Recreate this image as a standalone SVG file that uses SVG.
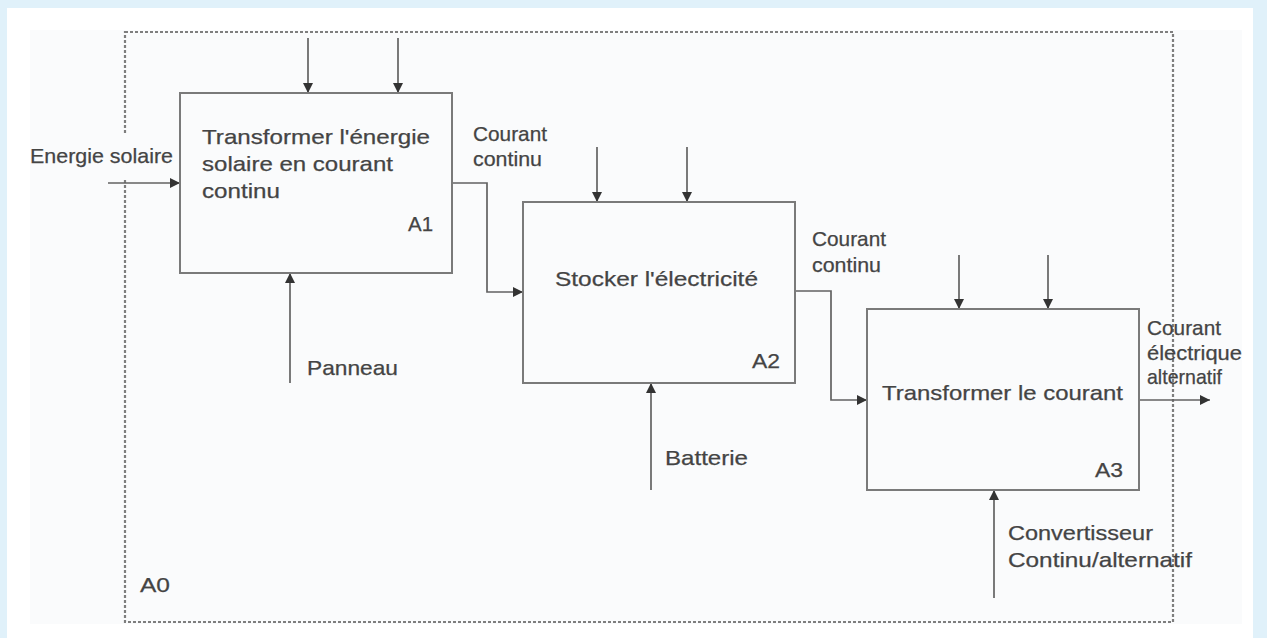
<svg xmlns="http://www.w3.org/2000/svg" width="1267" height="638" viewBox="0 0 1267 638">
<defs>
<marker id="arr" viewBox="0 0 10 10" refX="10" refY="5" markerWidth="10" markerHeight="10" markerUnits="userSpaceOnUse" orient="auto">
<path d="M0,0 L10,5 L0,10 z" fill="#333"/>
</marker>
<style>
text{font-family:"Liberation Sans",Arial,sans-serif;font-size:21px;fill:#444;stroke:#444;stroke-width:0.25}
.box{fill:none;stroke:#7a7a7a;stroke-width:2}
.c{fill:none;stroke:#626262;stroke-width:1.7;marker-end:url(#arr)}
</style>
</defs>
<rect x="0" y="0" width="1267" height="638" fill="#e0f1fa"/>
<rect x="7" y="8" width="1246" height="630" fill="#ffffff"/>
<rect x="30" y="30" width="1212" height="594" fill="#fafbfc"/>
<rect x="125" y="32" width="1048" height="590" fill="none" stroke="#7e7e7e" stroke-width="2.2" stroke-dasharray="3,2"/>
<rect x="118" y="134" width="14" height="44" fill="#fafbfc"/>
<text x="140" y="592" textLength="30" lengthAdjust="spacingAndGlyphs">A0</text>

<g id="connectors">
<path class="c" d="M308,38 V93"/>
<path class="c" d="M398,38 V93"/>
<path class="c" d="M108,183 H180"/>
<path class="c" d="M290,383 V273"/>
<path class="c" d="M452,183 H487 V292 H523"/>
<path class="c" d="M597,147 V202"/>
<path class="c" d="M687,147 V202"/>
<path class="c" d="M651,490 V383"/>
<path class="c" d="M795,291 H831 V400 H867"/>
<path class="c" d="M959,255 V309"/>
<path class="c" d="M1048,255 V309"/>
<path class="c" d="M994,598 V490"/>
<path class="c" d="M1139,400 H1210"/>
</g>

<g id="labels">
<text x="30" y="163" textLength="143" lengthAdjust="spacingAndGlyphs">Energie solaire</text>
<text x="473" y="141" textLength="74" lengthAdjust="spacingAndGlyphs">Courant</text>
<text x="473" y="166" textLength="69" lengthAdjust="spacingAndGlyphs">continu</text>
<text x="812" y="246" textLength="74" lengthAdjust="spacingAndGlyphs">Courant</text>
<text x="812" y="272" textLength="69" lengthAdjust="spacingAndGlyphs">continu</text>
<text x="1147" y="335" textLength="74" lengthAdjust="spacingAndGlyphs">Courant</text>
<text x="1147" y="360" textLength="95" lengthAdjust="spacingAndGlyphs">électrique</text>
<text x="1147" y="384" textLength="75" lengthAdjust="spacingAndGlyphs">alternatif</text>
<text x="307" y="375" textLength="91" lengthAdjust="spacingAndGlyphs">Panneau</text>
<text x="665" y="465" textLength="83" lengthAdjust="spacingAndGlyphs">Batterie</text>
<text x="1008" y="540" textLength="145" lengthAdjust="spacingAndGlyphs">Convertisseur</text>
<text x="1008" y="567" textLength="184" lengthAdjust="spacingAndGlyphs">Continu/alternatif</text>
</g>

<g id="A1">
<rect class="box" x="180" y="93" width="272" height="180"/>
<text x="202" y="144" textLength="228" lengthAdjust="spacingAndGlyphs">Transformer l'énergie</text>
<text x="202" y="171" textLength="191" lengthAdjust="spacingAndGlyphs">solaire en courant</text>
<text x="202" y="198" textLength="78" lengthAdjust="spacingAndGlyphs">continu</text>
<text x="408" y="231" textLength="25" lengthAdjust="spacingAndGlyphs">A1</text>
</g>

<g id="A2">
<rect class="box" x="523" y="202" width="272" height="181"/>
<text x="555" y="286" textLength="203" lengthAdjust="spacingAndGlyphs">Stocker l'électricité</text>
<text x="752" y="368" textLength="28" lengthAdjust="spacingAndGlyphs">A2</text>
</g>

<g id="A3">
<rect class="box" x="867" y="309" width="272" height="181"/>
<text x="882" y="400" textLength="241" lengthAdjust="spacingAndGlyphs">Transformer le courant</text>
<text x="1095" y="477" textLength="28" lengthAdjust="spacingAndGlyphs">A3</text>
</g>
</svg>
